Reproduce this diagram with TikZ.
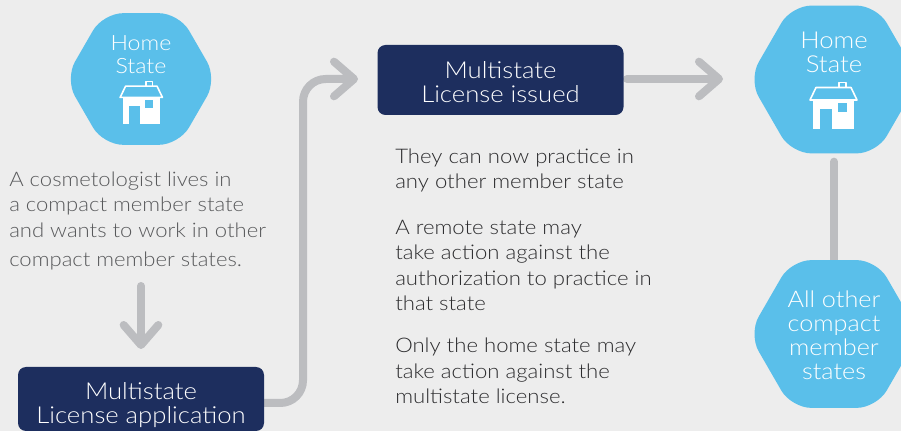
\documentclass[tikz,border=0pt]{standalone}
\usepackage{fontspec}
\setmainfont[FakeStretch=1.1]{Lato Light}
\usetikzlibrary{arrows.meta,shapes.geometric,backgrounds}
\definecolor{pagegrey}{HTML}{EDEDED}
\definecolor{hexblue}{HTML}{5ABFEA}
\definecolor{boxnavy}{HTML}{1D2E5E}
\definecolor{linkgrey}{HTML}{BCBDC0}
\definecolor{sidetext}{HTML}{58595B}
\definecolor{maintext}{HTML}{2C2C2E}
% one house, origin at the middle of its floor line
\newcommand{\homeicon}[2]{%
	\begin{scope}[shift={(#1)},scale=#2]
		\fill[white] (-20.5,0) rectangle (20.5,-29.5);
		\fill[hexblue] (-13.5,0) rectangle (-1.5,-20.5);
		\fill[hexblue] (4.5,-17.5) rectangle (13.5,-26.5);
		\draw[white,line width=1.2pt,line join=round] (-23.5,-29.5) -- (-17.5,-42) -- (17.5,-42) -- (23.5,-29.5) -- cycle;
		\draw[white,line width=1.2pt,line join=round] (5.5,-42) -- (5.5,-47) -- (12.5,-47) -- (12.5,-42);
	\end{scope}}
\begin{document}
\begin{tikzpicture}%
	[x=.75pt,y=-.75pt,
	hexagon/.style={regular polygon,regular polygon sides=6,draw=none,fill=hexblue,rounded corners=15pt,inner sep=0pt},
	navybox/.style={rectangle,fill=boxnavy,rounded corners=6pt,inner sep=0pt},
	hexlabel/.style={align=center,text=white,inner sep=0pt},
	sidenote/.style={align=left,anchor=north west,inner sep=0pt,text=sidetext,font=\fontsize{15.05}{19.2}\selectfont},
	mainnote/.style={align=left,anchor=north west,inner sep=0pt,text=maintext,font=\fontsize{15.1}{19}\selectfont},
	link/.style={draw=linkgrey,line width=6pt,line cap=round},
	arrowlink/.style={link,-{Straight Barb[length=15pt,width=26pt,round]}}]
	\useasboundingbox (0,0) rectangle (901,431);

	\node[hexagon,minimum size=114pt] (homeleft) at (141,79) {};
	\node[hexlabel,font=\fontsize{15.8}{17}\selectfont] (homeleftlabel) at (141,54.5) {Home\\State};
	\homeicon{141.3,124}{.9}

	\node[hexagon,minimum size=128pt] (homeright) at (834,79.5) {};
	\node[hexlabel,font=\fontsize{17.5}{18}\selectfont] (homerightlabel) at (834,52) {Home\\State};
	\homeicon{833.5,129.5}{1}

	\node[hexagon,minimum size=128pt] (others) at (834,334) {};
	\node[hexlabel,font=\fontsize{17.2}{18}\selectfont] (otherslabel) at (834,335) {All other\\compact\\member\\states};

	\node[navybox,minimum width=184.5pt,minimum height=52.5pt] (issued) at (500.5,80) {};
	\node[hexlabel,font=\fontsize{17.5}{18}\selectfont] (issuedlabel) at (500.5,82) {Multistate\\License issued};
	\node[navybox,minimum width=184.5pt,minimum height=48pt] (application) at (141,399) {};
	\node[hexlabel,font=\fontsize{17.5}{18}\selectfont] (applicationlabel) at (141,405) {Multistate\\License application};

	\node[sidenote] (lives) at (9,171.5) {A cosmetologist lives in\\a compact member state\\and wants to work in other\\[2.5pt]compact member states.};
	\node[mainnote] (practice) at (395,148.5) {They can now practice in\\any other member state};
	\node[mainnote] (remote) at (395,220) {A remote state may\\take action against the\\authorization to practice in\\that state};
	\node[mainnote] (only) at (395,338) {Only the home state may\\take action against the\\multistate license.};

	\coordinate (livesend) at (141,286);
	\coordinate (appdrop) at (141,349);
	\coordinate (appout) at (application.east |- 0,403);
	\coordinate (bendlow) at (303,403);
	\coordinate (bendhigh) at (303,79);
	\coordinate (issuedin) at (358,79);
	\coordinate (issuedout) at (627,79);
	\coordinate (homein) at (723,79);

	\begin{pgfonlayer}{background}
		\fill[pagegrey] (0,0) rectangle (901,431);
		\draw[arrowlink] (livesend) -- (appdrop);
		\draw[arrowlink,rounded corners=17pt] (appout) -- (bendlow) -- (bendhigh) -- (issuedin);
		\draw[arrowlink] (issuedout) -- (homein);
		\draw[link,shorten <=6pt] (homeright) -- (others);
	\end{pgfonlayer}
\end{tikzpicture}
\end{document}
